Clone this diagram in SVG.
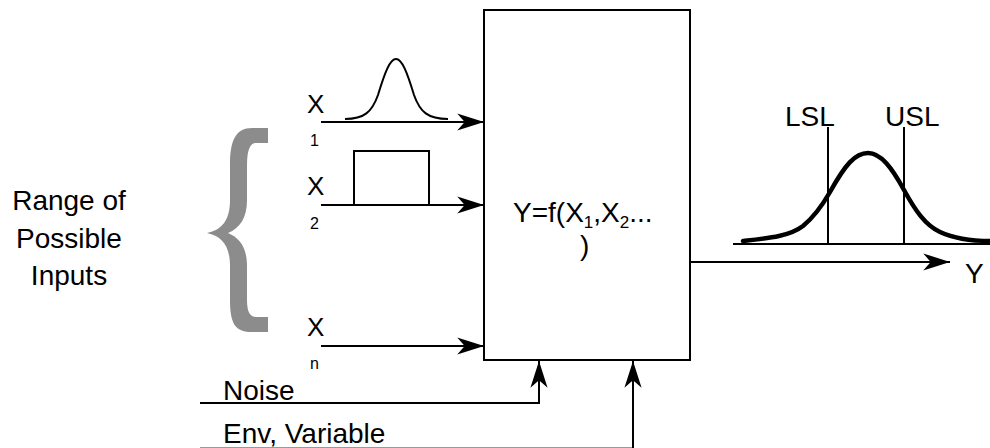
<svg xmlns="http://www.w3.org/2000/svg" width="990" height="448" viewBox="0 0 990 448">
<defs>
<style>
.t{font-family:"Liberation Sans",Arial,sans-serif;fill:#000;}
.ln{stroke:#000;stroke-width:2;fill:none;}
.big{font-size:28px;}
.xl{font-size:26px;}
.sub{font-size:16px;}
</style>
<marker id="ah" markerUnits="userSpaceOnUse" markerWidth="30" markerHeight="20" viewBox="-26 -9 28 18" refX="0" refY="0" orient="auto">
<path d="M0,0 L-25,-8 L-18,0 L-25,8 Z" fill="#000"/>
</marker>
</defs>
<rect width="990" height="448" fill="#fff"/>
<g id="brace">
<path d="M268,128 L252,128 C236,128 230,140 230,165 L230,200 C230,220 222,230 207,233 C222,236 230,246 230,266 L230,300 C230,325 236,332 252,332 L268,332 L268,317 L256,317 C250,317 247,312 247,300 L247,266 C247,248 240,238 228,233 C240,228 247,218 247,200 L247,165 C247,150 250,143 256,143 L268,143 Z" fill="#8c8c8c"/>
</g>
<g id="range-label" text-anchor="middle">
<text x="69" y="210" class="t big">Range of</text>
<text x="69" y="248" class="t big">Possible</text>
<text x="69" y="285" class="t big">Inputs</text>
</g>
<g id="x1">
<text x="307" y="113" class="t xl">X</text>
<text x="310" y="146" class="t sub">1</text>
<path class="ln" d="M345,119 C364,119 372,112 378,95 C385,72 390,59 396,59 C402,59 407,72 414,95 C420,112 428,119 448,119"/>
</g>
<g id="x2">
<text x="307" y="195" class="t xl">X</text>
<text x="310" y="229" class="t sub">2</text>
<path class="ln" d="M354,205 L354,151 L429,151 L429,205"/>
</g>
<g id="xn">
<text x="307" y="336" class="t xl">X</text>
<text x="310" y="369" class="t sub">n</text>
</g>
<g id="noise">
<text x="223" y="400" class="t big">Noise</text>
</g>
<g id="env">
<text x="223" y="443" class="t big">Env, Variable</text>
</g>
<g id="process">
<rect x="484" y="10" width="206" height="350" class="ln"/>
<text x="513" y="222" class="t big">Y=f(X<tspan font-size="17" dy="6">1</tspan><tspan dy="-6">,X</tspan><tspan font-size="17" dy="6">2</tspan><tspan dy="-6">...</tspan></text>
<text x="580" y="255" class="t big">)</text>
</g>
<g id="output">
<line x1="733" y1="244" x2="990" y2="244" class="ln"/>
<line x1="828" y1="127" x2="828" y2="244" class="ln"/>
<line x1="904" y1="127" x2="904" y2="244" class="ln"/>
<path d="M743,241 C770,238 790,236 803,226 C815,216 822,206 830,192 C845,165 855,153 868,153 C881,153 892,168 904,190 C915,210 925,225 940,232 C955,239 970,241 990,241" fill="none" stroke="#000" stroke-width="4.5" stroke-linecap="round"/>
<text x="785" y="126" class="t big">LSL</text>
<text x="885" y="126" class="t big">USL</text>
<text x="965" y="283" class="t big">Y</text>
</g>
<g id="connectors">
<line x1="321" y1="122" x2="484" y2="122" class="ln" marker-end="url(#ah)"/>
<line x1="321" y1="205" x2="484" y2="205" class="ln" marker-end="url(#ah)"/>
<line x1="321" y1="346" x2="484" y2="346" class="ln" marker-end="url(#ah)"/>
<path d="M200,403 L539,403 L539,361" class="ln" marker-end="url(#ah)"/>
<line x1="200" y1="447.5" x2="633" y2="447.5" stroke="#999" stroke-width="1"/>
<line x1="633" y1="448" x2="633" y2="361" class="ln" marker-end="url(#ah)"/>
<line x1="691" y1="262" x2="950" y2="262" class="ln" marker-end="url(#ah)"/>
</g>
</svg>
